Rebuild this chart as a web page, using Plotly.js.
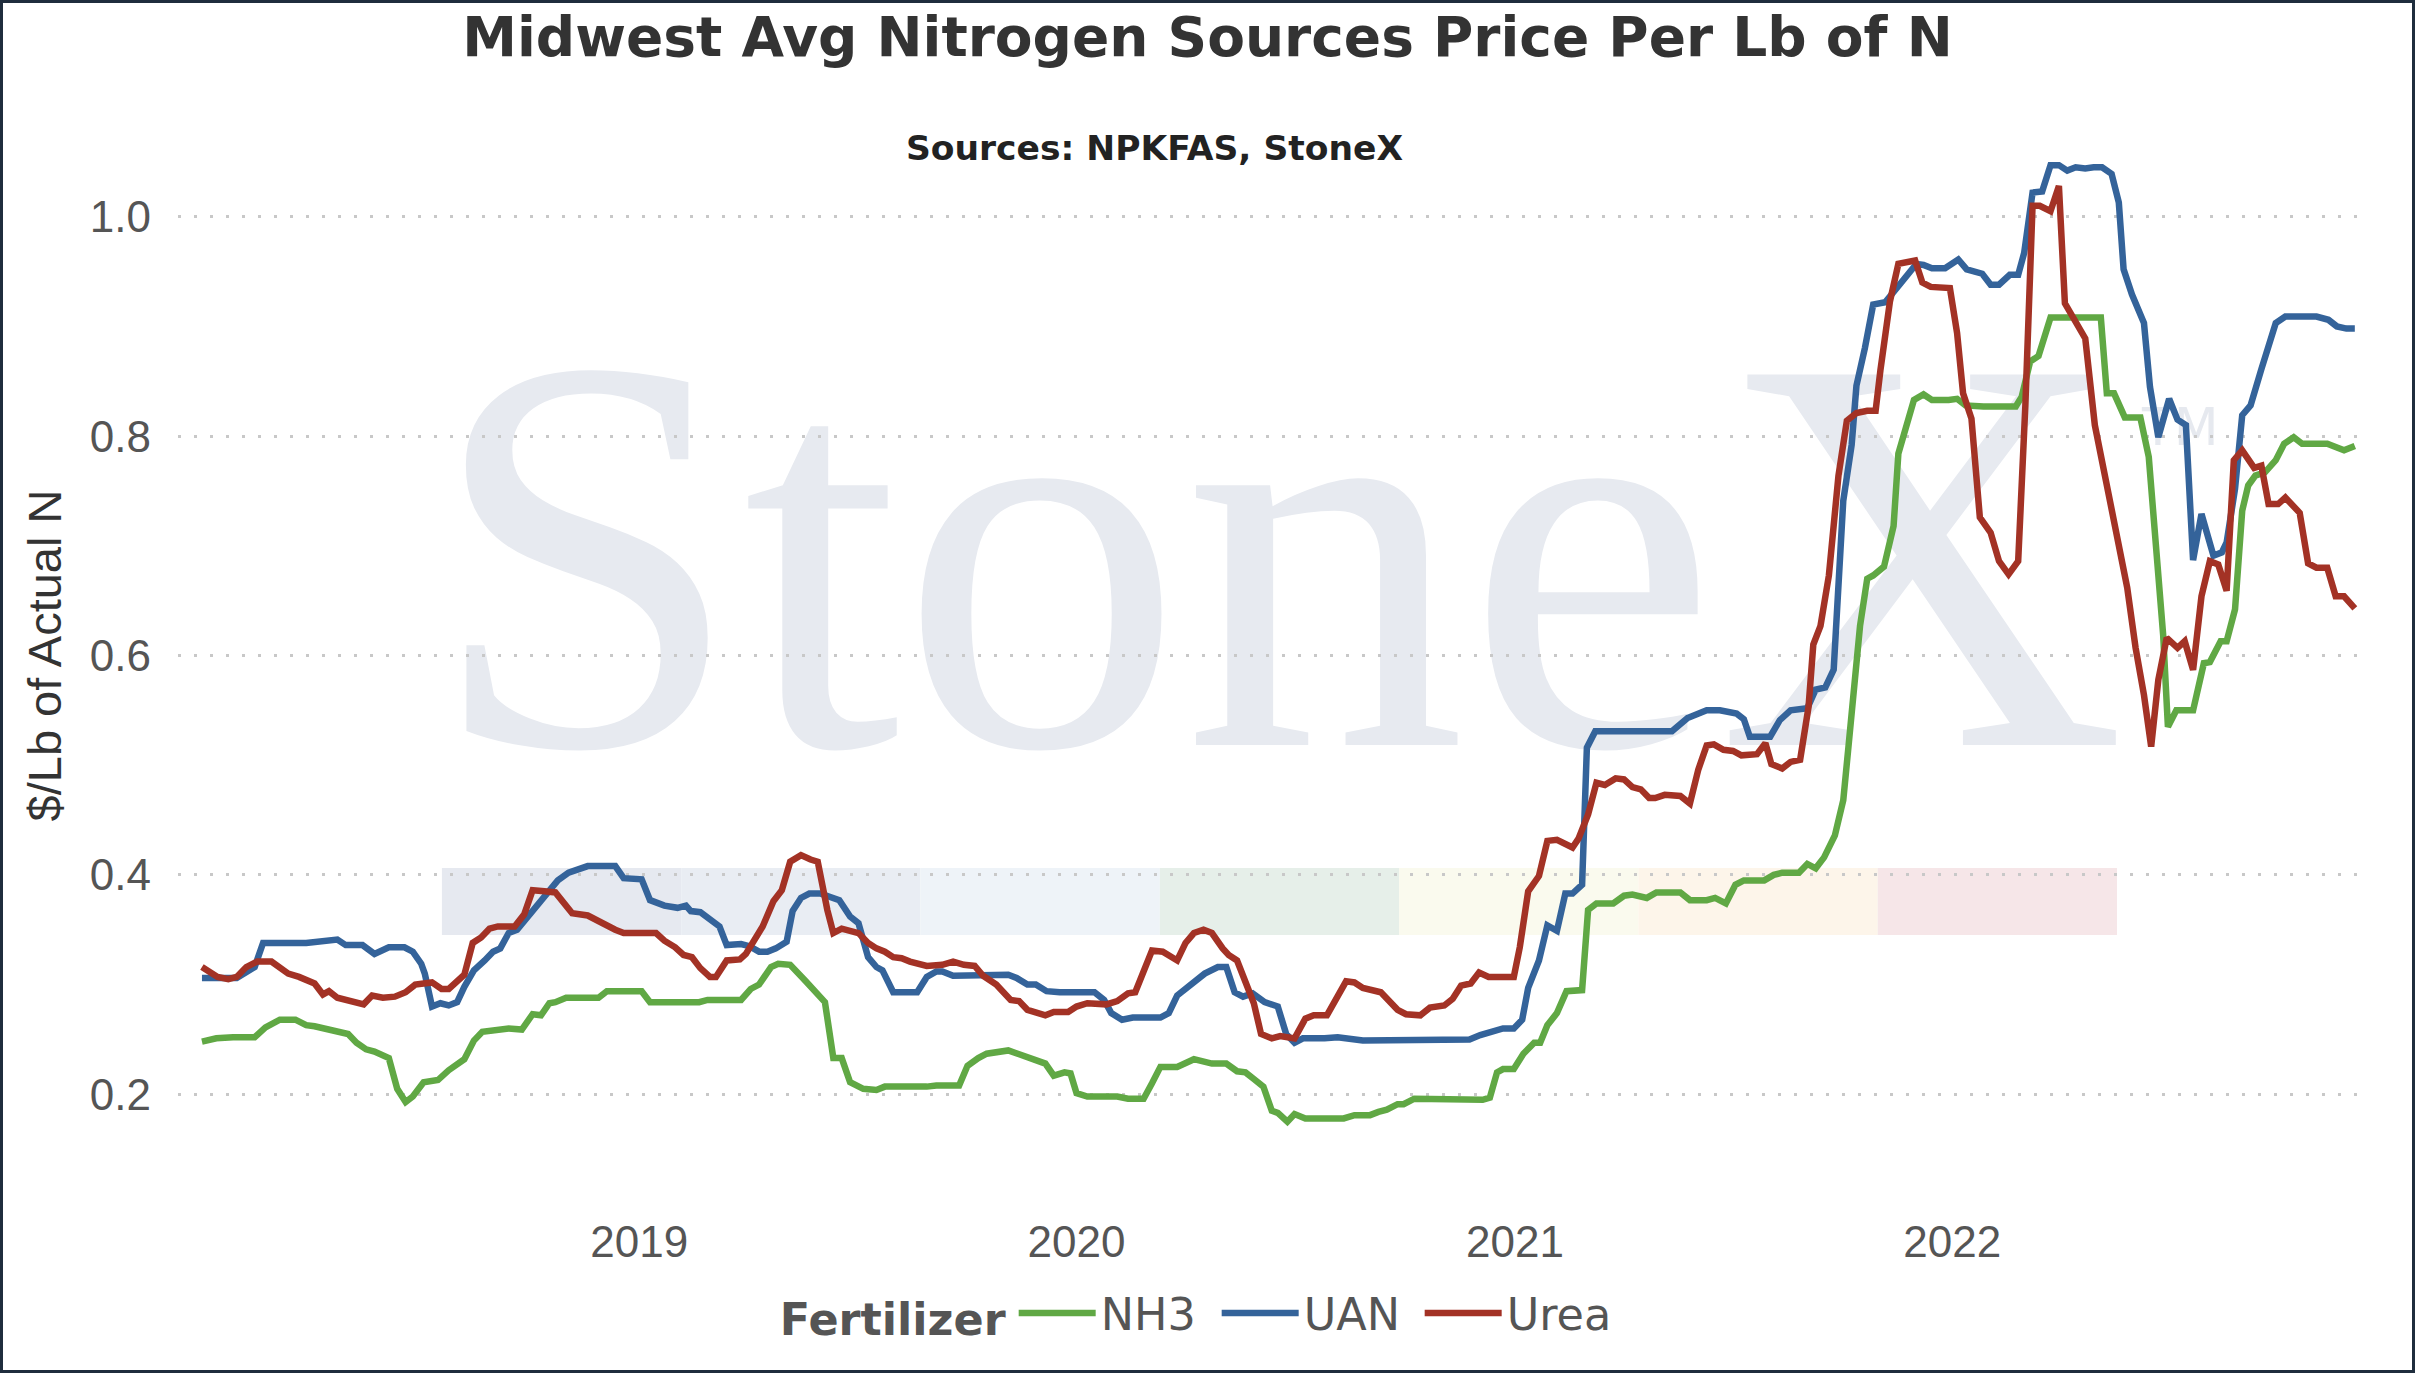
<!DOCTYPE html>
<html><head><meta charset="utf-8">
<script src="https://cdn.plot.ly/plotly-3.0.1.min.js"></script>
<style>
html,body{margin:0;padding:0;background:#fff;}
#frame{position:relative;width:2415px;height:1373px;box-sizing:border-box;border:3px solid #1f2d3d;background:#fff;overflow:hidden;}
#bg,#chart{position:absolute;left:0;top:0;width:2409px;height:1367px;}
</style></head><body>
<div id="frame"><div id="bg"></div><div id="chart"></div></div>
<script>
// ---- data (days counted from startDate, values in $/lb of actual N) ----
const startDate = '2018-01-01';
const seriesNames = ['NH3', 'UAN', 'Urea'];
const seriesColors = ['#60a844', '#34639a', '#a33225'];

const nh3Days = [0,12,26,44,53,65,78,87,94,101,113,122,129,137,144,156,163,170,176,185,197,206,219,227,234,247,256,267,276,283,290,295,304,331,338,367,374,415,422,450,458,465,475,481,491,504,515,520,527,534,541,547,552,563,570,605,613,632,639,648,655,673,684,695,704,711,720,725,730,739,764,773,786,793,800,814,828,843,855,864,871,878,886,893,898,906,912,921,953,962,975,982,989,998,1003,1012,1069,1075,1081,1086,1095,1103,1112,1117,1123,1131,1139,1152,1157,1164,1178,1187,1194,1206,1214,1234,1242,1256,1263,1272,1280,1287,1304,1312,1319,1333,1340,1347,1354,1363,1370,1374,1380,1384,1390,1395,1404,1412,1416,1423,1429,1437,1444,1458,1465,1472,1487,1514,1519,1526,1533,1543,1585,1590,1596,1605,1618,1625,1630,1637,1641,1648,1662,1671,1676,1685,1690,1697,1703,1708,1714,1722,1731,1738,1746,1753,1774,1781,1788,1797];
const nh3Values = [0.248,0.251,0.252,0.252,0.261,0.268,0.268,0.263,0.262,0.260,0.258,0.255,0.247,0.241,0.239,0.233,0.205,0.193,0.198,0.211,0.213,0.222,0.232,0.249,0.257,0.258,0.260,0.259,0.273,0.272,0.283,0.284,0.288,0.288,0.294,0.294,0.284,0.284,0.286,0.286,0.296,0.300,0.316,0.319,0.318,0.303,0.290,0.284,0.233,0.233,0.211,0.208,0.205,0.204,0.207,0.207,0.208,0.208,0.226,0.233,0.237,0.240,0.236,0.231,0.228,0.217,0.220,0.219,0.201,0.198,0.198,0.196,0.196,0.210,0.225,0.225,0.232,0.228,0.228,0.221,0.220,0.214,0.207,0.185,0.183,0.175,0.182,0.178,0.178,0.181,0.181,0.184,0.186,0.191,0.191,0.196,0.195,0.197,0.220,0.223,0.223,0.237,0.247,0.247,0.263,0.274,0.294,0.295,0.368,0.374,0.374,0.381,0.382,0.379,0.384,0.384,0.377,0.377,0.379,0.374,0.391,0.395,0.395,0.400,0.402,0.402,0.410,0.406,0.416,0.436,0.468,0.513,0.576,0.627,0.670,0.673,0.681,0.718,0.784,0.809,0.833,0.838,0.833,0.833,0.834,0.828,0.827,0.827,0.836,0.868,0.873,0.908,0.908,0.839,0.839,0.817,0.817,0.781,0.706,0.619,0.535,0.550,0.550,0.593,0.594,0.613,0.613,0.642,0.732,0.755,0.764,0.767,0.778,0.793,0.799,0.793,0.793,0.790,0.787,0.791];

const uanDays = [0,29,44,51,87,113,120,134,144,156,169,176,183,186,192,199,206,213,219,227,236,243,249,256,263,272,281,288,297,306,315,322,345,352,367,374,386,397,404,408,416,425,432,438,450,457,465,472,479,488,493,500,507,516,525,532,541,548,556,563,568,577,597,605,613,618,627,648,673,680,689,696,705,716,745,753,759,768,777,800,807,814,825,837,848,855,862,869,877,887,898,905,912,919,937,948,969,998,1058,1067,1078,1086,1095,1102,1107,1116,1123,1131,1138,1144,1152,1156,1163,1227,1240,1256,1267,1281,1287,1292,1309,1317,1326,1340,1347,1355,1362,1366,1370,1377,1381,1388,1395,1405,1415,1431,1437,1444,1455,1466,1473,1486,1493,1500,1509,1516,1521,1528,1536,1543,1550,1557,1564,1572,1579,1586,1594,1600,1604,1611,1621,1626,1633,1642,1649,1656,1662,1669,1679,1686,1690,1697,1703,1710,1719,1731,1739,1765,1775,1782,1790,1797];
const uanValues = [0.306,0.306,0.316,0.338,0.338,0.341,0.336,0.336,0.328,0.334,0.334,0.330,0.319,0.310,0.280,0.283,0.281,0.284,0.298,0.313,0.322,0.330,0.333,0.347,0.350,0.362,0.374,0.385,0.395,0.402,0.406,0.408,0.408,0.397,0.396,0.377,0.372,0.370,0.372,0.367,0.366,0.359,0.353,0.336,0.337,0.335,0.330,0.330,0.333,0.339,0.367,0.379,0.383,0.383,0.379,0.377,0.362,0.356,0.325,0.316,0.313,0.293,0.293,0.307,0.312,0.312,0.308,0.308,0.309,0.306,0.300,0.300,0.294,0.293,0.293,0.286,0.274,0.268,0.270,0.270,0.274,0.290,0.300,0.310,0.316,0.316,0.293,0.289,0.292,0.284,0.280,0.255,0.247,0.251,0.251,0.252,0.249,0.249,0.250,0.254,0.257,0.260,0.260,0.268,0.297,0.322,0.354,0.349,0.383,0.383,0.391,0.516,0.531,0.531,0.543,0.550,0.550,0.547,0.542,0.526,0.526,0.541,0.550,0.552,0.569,0.571,0.587,0.673,0.741,0.792,0.846,0.880,0.920,0.922,0.935,0.957,0.956,0.953,0.953,0.961,0.952,0.948,0.938,0.938,0.947,0.947,0.967,1.022,1.023,1.047,1.047,1.042,1.045,1.044,1.045,1.045,1.039,1.013,0.952,0.929,0.903,0.845,0.799,0.834,0.815,0.810,0.687,0.729,0.691,0.694,0.703,0.752,0.819,0.828,0.861,0.903,0.909,0.909,0.906,0.900,0.898,0.898];

const ureaDays = [0,6,13,22,29,37,46,58,72,81,94,101,106,113,122,135,142,151,161,170,178,192,200,206,219,226,233,240,247,261,269,276,286,295,309,322,345,352,379,386,395,402,409,416,424,429,438,449,454,459,468,477,484,491,500,508,514,522,527,534,543,548,556,563,570,577,584,591,605,618,627,636,645,652,663,675,682,689,704,711,723,730,739,755,764,773,779,786,793,802,814,821,828,836,843,852,857,864,871,878,884,893,900,912,921,928,939,948,955,962,969,984,991,998,1005,1017,1025,1037,1044,1051,1059,1066,1074,1095,1100,1107,1116,1123,1131,1144,1149,1157,1164,1171,1180,1187,1194,1201,1208,1213,1221,1234,1242,1249,1256,1262,1270,1278,1285,1298,1305,1310,1319,1326,1334,1341,1345,1351,1358,1366,1373,1381,1390,1397,1401,1409,1416,1430,1436,1443,1459,1465,1470,1477,1484,1493,1500,1508,1516,1522,1528,1534,1543,1550,1555,1564,1572,1580,1589,1596,1607,1614,1621,1627,1633,1640,1649,1655,1662,1669,1676,1683,1690,1696,1703,1713,1719,1725,1733,1739,1751,1758,1765,1774,1781,1788,1797];
const ureaValues = [0.316,0.311,0.307,0.305,0.307,0.316,0.321,0.321,0.310,0.307,0.301,0.291,0.294,0.288,0.285,0.282,0.290,0.288,0.289,0.293,0.300,0.302,0.296,0.296,0.309,0.338,0.343,0.351,0.353,0.353,0.364,0.386,0.385,0.384,0.365,0.363,0.350,0.347,0.347,0.340,0.334,0.327,0.325,0.315,0.307,0.307,0.322,0.323,0.328,0.336,0.353,0.376,0.386,0.412,0.418,0.414,0.412,0.368,0.347,0.351,0.349,0.347,0.338,0.333,0.330,0.325,0.324,0.321,0.317,0.318,0.321,0.318,0.317,0.308,0.300,0.286,0.285,0.277,0.272,0.275,0.275,0.280,0.283,0.282,0.285,0.292,0.293,0.313,0.331,0.330,0.322,0.338,0.347,0.350,0.347,0.333,0.327,0.322,0.301,0.283,0.255,0.251,0.253,0.251,0.269,0.272,0.272,0.289,0.303,0.302,0.297,0.293,0.284,0.277,0.273,0.272,0.279,0.281,0.287,0.299,0.301,0.311,0.307,0.307,0.334,0.385,0.399,0.431,0.432,0.425,0.433,0.455,0.484,0.482,0.488,0.487,0.480,0.478,0.470,0.470,0.473,0.472,0.465,0.496,0.518,0.519,0.514,0.513,0.509,0.510,0.520,0.501,0.497,0.503,0.505,0.553,0.610,0.627,0.673,0.764,0.814,0.821,0.823,0.823,0.860,0.923,0.957,0.960,0.940,0.936,0.935,0.894,0.839,0.816,0.726,0.712,0.686,0.674,0.686,0.828,1.010,1.010,1.005,1.028,0.921,0.903,0.889,0.810,0.761,0.729,0.662,0.607,0.564,0.517,0.578,0.616,0.607,0.613,0.587,0.654,0.686,0.683,0.659,0.778,0.787,0.771,0.773,0.738,0.738,0.744,0.730,0.684,0.680,0.680,0.654,0.654,0.643];

const xTickDates = ['2019-01-01','2020-01-01','2021-01-01','2022-01-01'];
const xTickLabels = ['2019','2020','2021','2022'];
const yTickValues = [0.2, 0.4, 0.6, 0.8, 1.0];
const yTickLabels = ['0.2','0.4','0.6','0.8','1.0'];
const watermarkBandColors = ['#e6e9f0','#e9edf3','#eef3f8','#e6efe9','#fafaee','#fdf5ea','#f6e6e8'];

// ---- helpers ----
const base = Date.parse(startDate + 'T00:00:00Z');
const toDates = days => days.map(d => new Date(base + d * 86400000).toISOString().slice(0, 10));

const W = 2409, H = 1367;
const margin = {l: 175, r: 44, t: 104, b: 166, pad: 0};
const xRange = ['2017-12-12', '2022-12-14'];
const yRange = [0.1, 1.1];
const FONT = 'DejaVu Sans, Verdana, sans-serif';
const AXFONT = 'Liberation Sans, Arial, sans-serif';

// ---- background layer: watermark (below the data) ----
const bandX0 = 0.1205, bandW = 0.10927, bandY0 = 0.2452, bandY1 = 0.3063;
const bgShapes = watermarkBandColors.map((c, i) => ({
  type: 'rect', xref: 'paper', yref: 'paper',
  x0: bandX0 + i * bandW, x1: bandX0 + (i + 1) * bandW, y0: bandY0, y1: bandY1,
  fillcolor: c, line: {width: 0}, layer: 'below'
}));
Plotly.newPlot('bg', [], {
  width: W, height: H, margin: margin,
  paper_bgcolor: '#ffffff', plot_bgcolor: '#ffffff',
  xaxis: {visible: false, range: [0, 1]}, yaxis: {visible: false, range: [0, 1]},
  shapes: bgShapes,
  annotations: [
    {text: 'StoneX', xref: 'paper', yref: 'paper', x: 0.502, y: 0.5925, xanchor: 'center', yanchor: 'middle',
     showarrow: false, font: {family: 'Liberation Serif, Times New Roman, serif', size: 566, color: '#e7eaf0'}},
    {text: 'TM', xref: 'paper', yref: 'paper', x: 0.914, y: 0.708, xanchor: 'center', yanchor: 'middle',
     showarrow: false, font: {family: FONT, size: 52, color: '#e6e9ef'}}
  ]
}, {staticPlot: true, displayModeBar: false});

// ---- data layer ----
const daysList = [nh3Days, uanDays, ureaDays];
const valuesList = [nh3Values, uanValues, ureaValues];
const traces = seriesNames.map((name, i) => ({
  type: 'scatter', mode: 'lines', name: name,
  x: toDates(daysList[i]), y: valuesList[i],
  line: {color: seriesColors[i], width: 6.5},
  hoverinfo: 'skip'
}));

const layout = {
  width: W, height: H, margin: margin,
  paper_bgcolor: 'rgba(0,0,0,0)', plot_bgcolor: 'rgba(0,0,0,0)',
  font: {family: AXFONT, color: '#555555', size: 44},
  title: {
    text: 'Midwest Avg Nitrogen Sources Price Per Lb of N',
    font: {family: FONT, size: 55, color: '#333333', weight: 'bold'},
    x: 0.5, xref: 'container', xanchor: 'center',
    y: 0.9892, yref: 'container', yanchor: 'top'
  },
  xaxis: {
    type: 'date', range: xRange, tickmode: 'array', tickvals: xTickDates, ticktext: xTickLabels,
    showgrid: false, zeroline: false, showline: false, ticks: '', ticklabelstandoff: 8,
    tickfont: {family: AXFONT, size: 44, color: '#555555'}
  },
  yaxis: {
    range: yRange, tickmode: 'array', tickvals: yTickValues, ticktext: yTickLabels,
    showgrid: true, gridcolor: '#c8c8c8', gridwidth: 3, griddash: '3px,13px',
    zeroline: false, showline: false, ticks: '', ticklabelstandoff: 26,
    tickfont: {family: AXFONT, size: 44, color: '#555555'},
    title: {text: '$/Lb of Actual N', font: {family: AXFONT, size: 47, color: '#333333'}, standoff: 13}
  },
  legend: {
    orientation: 'h', x: 0.2739, xanchor: 'left', y: -0.0994, yanchor: 'middle',
    title: {text: 'Fertilizer', font: {family: FONT, size: 44.5, color: '#555555', weight: 'bold'}},
    font: {family: FONT, size: 44.5, color: '#555555'},
    itemwidth: 77, entrywidth: 111, bgcolor: 'rgba(0,0,0,0)'
  },
  annotations: [
    {text: 'Sources: NPKFAS, StoneX', xref: 'paper', yref: 'paper', x: 0.4461, y: 0.9622,
     xanchor: 'center', yanchor: 'middle', showarrow: false,
     font: {family: FONT, size: 34.5, color: '#222222', weight: 'bold'}}
  ],
  showlegend: true
};
Plotly.newPlot('chart', traces, layout, {displayModeBar: false});
</script></body></html>
